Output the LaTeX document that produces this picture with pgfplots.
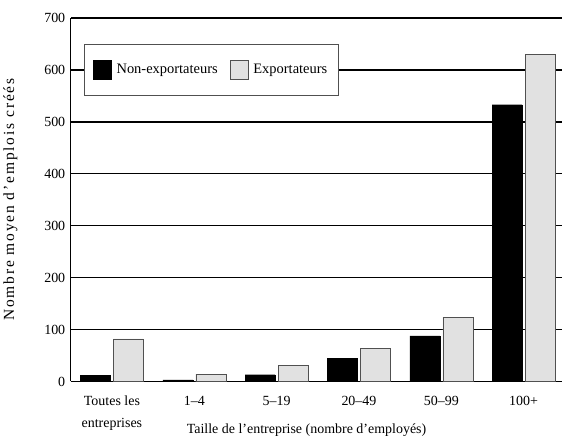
\documentclass[border=0pt]{standalone}
\usepackage{pgfplots}
\pgfplotsset{compat=1.18}
\usepackage{fontspec}
\setmainfont{Liberation Serif}
\definecolor{lightbar}{RGB}{225,225,225}
\definecolor{edgegray}{RGB}{80,80,80}
\begin{document}
\begin{tikzpicture}[font=\fontsize{14}{16.5}\selectfont]
\begin{axis}[
  name=main,
  scale only axis, width=491bp, height=363bp,
  xmin=-0.5, xmax=5.47, ymin=0, ymax=700,
  axis x line=bottom, axis y line=left,
  axis line style={-, line width=1.3pt, black},
  ytick={0,100,...,700},
  ymajorgrids, grid style={black, line width=1.3pt},
  major tick length=0pt,
  xtick={0,1,2,3,4,5},
  xticklabels={{Toutes les\\entreprises},{1--4},{5--19},{20--49},{50--99},{100+}},
  tick label style={font=\fontsize{14}{22}\selectfont},
  xticklabel style={align=center},
  x tick label style={yshift=-11bp},
  y tick label style={xshift=-2bp},
  /pgf/number format/assume math mode=true,
  xlabel={Taille de l’entreprise (nombre d’employés)},
  xlabel style={font=\fontsize{14}{16}\selectfont, yshift=14bp, xshift=-10bp},
  ylabel={Nombre moyen d’emplois créés},
  ylabel style={font=\fontsize{15.5}{17}\selectfont\addfontfeatures{LetterSpace=12}, yshift=20bp},
  ybar, bar width=0.365,
  legend columns=2,
  legend style={at={(0.026,0.857)}, anchor=west, draw=edgegray, line width=0.8pt,
    font=\fontsize{14.5}{16}\selectfont,
    inner xsep=9bp, inner ysep=16bp,
    /tikz/every odd column/.append style={column sep=3bp},
    /tikz/every even column/.append style={column sep=10bp}},
  legend image code/.code={\draw[#1, line width=0.6pt] (0bp,-10bp) rectangle (18bp,9bp);},
]
\addplot[fill=black, draw=black, bar shift=-0.2] coordinates {(0,12) (1,3) (2,13) (3,45) (4,88) (5,533)};
\addplot[fill=lightbar, draw=edgegray, bar shift=0.2] coordinates {(0,82) (1,14) (2,31) (3,64) (4,124) (5,630)};
\legend{Non-exportateurs, Exportateurs}
\end{axis}
\path (main.north west) ++(0,18bp);
\end{tikzpicture}
\end{document}
